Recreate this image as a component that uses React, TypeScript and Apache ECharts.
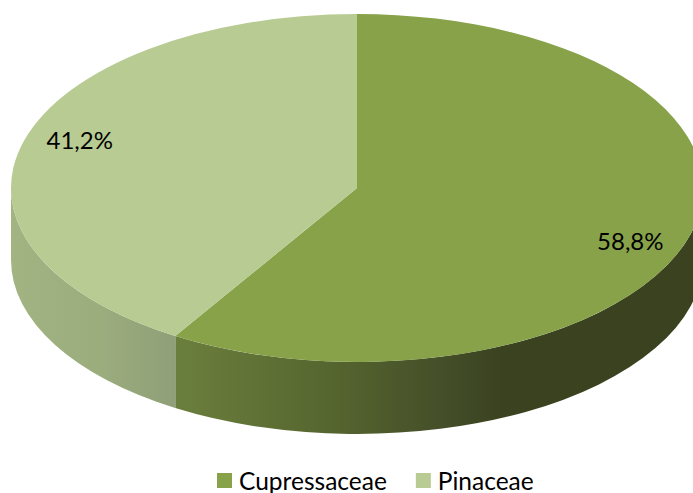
import React, { useEffect, useRef } from "react";
import * as echarts from "echarts";

const categories = ["Cupressaceae", "Pinaceae"];
const shares = [58.8, 41.2];
const shareLabels = ["58,8%", "41,2%"];
const topColors = ["#88a24a", "#b8cb92"];
const wallStops = [
  [
    [0, "#6b7f3d"],
    [0.29, "#56662f"],
    [0.5, "#454f29"],
    [0.62, "#3a4220"],
    [1, "#3a4220"],
  ],
  [
    [0, "#a3b483"],
    [0.55, "#9bac7d"],
    [1, "#8f9f78"],
  ],
];

const CX = 357;
const CY = 188;
const RX = 346;
const RY = 174;
const DEPTH = 72;
const FONT = "Lato";

const pt = (deg: number, dy = 0) => {
  const a = (deg * Math.PI) / 180;
  return [CX + RX * Math.sin(a), CY + dy - RY * Math.cos(a)];
};

const total = shares.reduce((s, v) => s + v, 0);

function sliceAngles(i: number) {
  let start = 0;
  for (let k = 0; k < i; k++) start += (shares[k] / total) * 360;
  return [start, start + (shares[i] / total) * 360];
}

function makeRender(i: number) {
  return () => {
    const [a0, a1] = sliceAngles(i);
    const p0 = pt(a0);
    const p1 = pt(a1);
    const large = a1 - a0 > 180 ? 1 : 0;
    const top = `M${CX} ${CY}L${p0[0]} ${p0[1]}A${RX} ${RY} 0 ${large} 1 ${p1[0]} ${p1[1]}Z`;

    // only the front half of the rim (90..270 degrees) is visible
    const w0 = Math.max(a0, 90);
    const w1 = Math.min(a1, 270);
    const q0 = pt(w0);
    const q1 = pt(w1);
    const q0b = pt(w0, DEPTH);
    const q1b = pt(w1, DEPTH);
    const wall = `M${q0[0]} ${q0[1]}A${RX} ${RY} 0 0 1 ${q1[0]} ${q1[1]}L${q1b[0]} ${q1b[1]}A${RX} ${RY} 0 0 0 ${q0b[0]} ${q0b[1]}Z`;
    const gx0 = Math.min(q0[0], q1[0]);
    const gx1 = Math.max(q0[0], q1[0]);
    const stops = wallStops[i].map(([offset, color]) => ({ offset, color }));

    const mid = (a0 + a1) / 2;
    const m = (mid * Math.PI) / 180;
    const lx = CX + RX * 0.83 * Math.sin(m) + (i === 0 ? -3 : -1);
    const ly = CY - RY * 0.83 * Math.cos(m) + (i === 0 ? 13 : -9);

    return {
      type: "group",
      children: [
        {
          type: "path",
          shape: { pathData: wall },
          style: {
            fill: new echarts.graphic.LinearGradient(gx0, 0, gx1, 0, stops as any, true),
          },
        },
        {
          type: "path",
          shape: { pathData: top },
          style: { fill: topColors[i] },
        },
        {
          type: "text",
          z2: 10,
          style: {
            x: lx,
            y: ly,
            text: shareLabels[i],
            fill: "#000",
            font: `24px ${FONT}`,
            align: "center",
            verticalAlign: "middle",
          },
        },
      ],
    };
  };
}

export default function App() {
  const ref = useRef<HTMLDivElement>(null);
  useEffect(() => {
    document.body.style.margin = "0";
    document.body.style.background = "#fff";
    const chart = echarts.init(ref.current!, null, { renderer: "svg" });
    chart.setOption({
      animation: false,
      backgroundColor: "#fff",
      legend: {
        show: true,
        left: 212,
        top: 463,
        padding: 5,
        itemWidth: 15,
        itemHeight: 15,
        itemGap: 29,
        itemStyle: { borderWidth: 0 },
        icon: "rect",
        textStyle: {
          fontFamily: FONT,
          fontSize: 24.5,
          color: "#000",
          lineHeight: 20,
          padding: [0, 0, 0, 2],
        },
        data: categories.map((name, i) => ({ name, itemStyle: { color: topColors[i] } })),
      },
      series: categories.map((name, i) => ({
        type: "custom",
        name,
        coordinateSystem: "none",
        silent: true,
        itemStyle: { color: topColors[i] },
        data: [shares[i]],
        renderItem: makeRender(i),
      })),
    });
    return () => chart.dispose();
  }, []);
  return <div ref={ref} style={{ width: 693, height: 493 }} />;
}
